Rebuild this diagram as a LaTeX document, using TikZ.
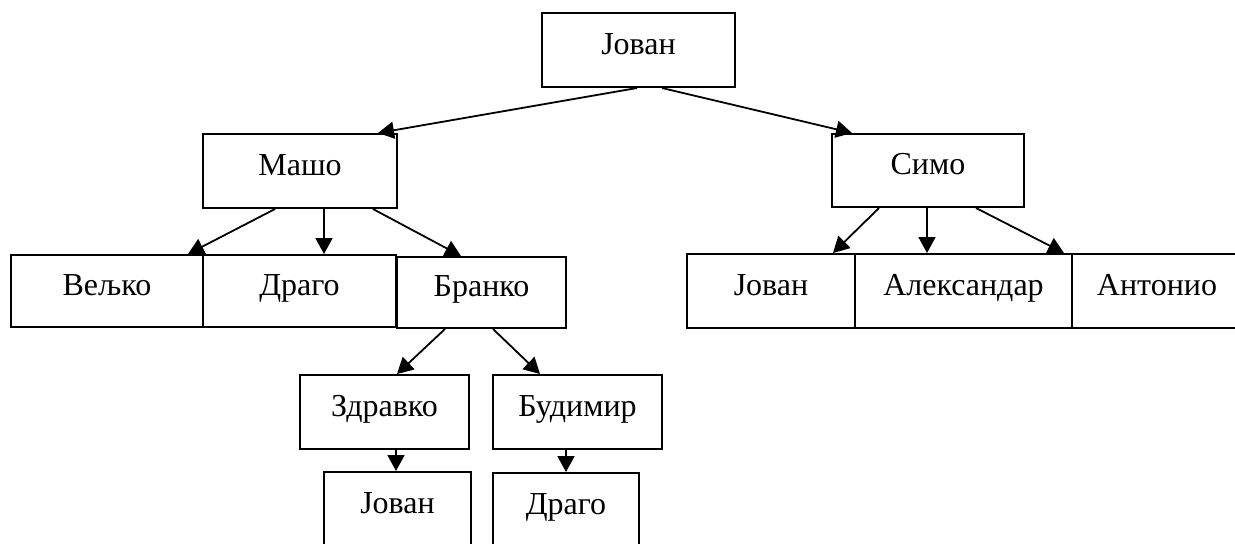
\documentclass[tikz,border=0pt]{standalone}
\usepackage{fontspec}
\setmainfont{Liberation Serif}
\usetikzlibrary{arrows.meta}
\begin{document}
\begin{tikzpicture}[x=0.5pt,y=-0.5pt,
  box/.style={draw,line width=1pt,inner sep=0pt,text height=10pt,text depth=6pt,
    font=\fontsize{16}{19}\selectfont,minimum height=37pt},
  arr/.style={line width=0.9pt,-{Triangle[length=8pt,width=8.5pt]}}]
\clip (0,0) rectangle (1235,543);
\node[box,minimum width=96.5pt] (root) at (638.5,50) {Јован};
\node[box,minimum width=97pt] (masho) at (300,171) {Машо};
\node[box,minimum width=96pt,minimum height=36.5pt] (simo) at (928,170.5) {Симо};
\node[box,minimum width=96pt,minimum height=36pt] (velko) at (107,291) {Вељко};
\node[box,minimum width=96.5pt,minimum height=36pt] (drago1) at (299.5,291) {Драго};
\node[box,minimum width=84.5pt,minimum height=35.5pt] (branko) at (481.5,292.5) {Бранко};
\node[box,minimum width=84pt] (jovan2) at (771,291) {Јован};
\node[box,minimum width=108.5pt] (aleks) at (963.5,291) {Александар};
\node[box,minimum width=85pt] (antonio) at (1157,291) {Антонио};
\node[box,minimum width=84.5pt] (zdravko) at (384.5,412) {Здравко};
\node[box,minimum width=84.5pt] (budimir) at (577.5,412) {Будимир};
\node[box,minimum width=73.5pt] (jovan3) at (397.5,509) {Јован};
\node[box,minimum width=73pt] (drago2) at (566,510) {Драго};
% connectors
\draw[arr] ([xshift=-0.75pt]root.south) -- ([xshift=-10pt]masho.north east);
\draw[arr] ([xshift=11.75pt]root.south) -- ([xshift=10.5pt]simo.north west);
\draw[arr] ([xshift=-12.5pt]masho.south) -- ([xshift=-8pt]velko.north east);
\coordinate (m2) at ([xshift=12pt]masho.south);
\draw[arr] (m2) -- (m2 |- drago1.north);
\draw[arr] ([xshift=36.5pt]masho.south) -- ([xshift=-10.25pt]branko.north);
\draw[arr] ([xshift=-24.5pt]simo.south) -- ([xshift=-11.5pt]jovan2.north east);
\coordinate (s2) at ([xshift=-0.5pt]simo.south);
\draw[arr] (s2) -- (s2 |- aleks.north);
\draw[arr] ([xshift=24pt]simo.south) -- ([xshift=-3.5pt]antonio.north west);
\draw[arr] ([xshift=-18.25pt]branko.south) -- ([xshift=6.25pt]zdravko.north);
\draw[arr] ([xshift=5.75pt]branko.south) -- ([xshift=-18.75pt]budimir.north);
\coordinate (z2) at ([xshift=5.75pt]zdravko.south);
\draw[arr] (z2) -- (z2 |- jovan3.north);
\coordinate (b2) at ([xshift=-5.75pt]budimir.south);
\draw[arr] (b2) -- (b2 |- drago2.north);
\end{tikzpicture}
\end{document}
